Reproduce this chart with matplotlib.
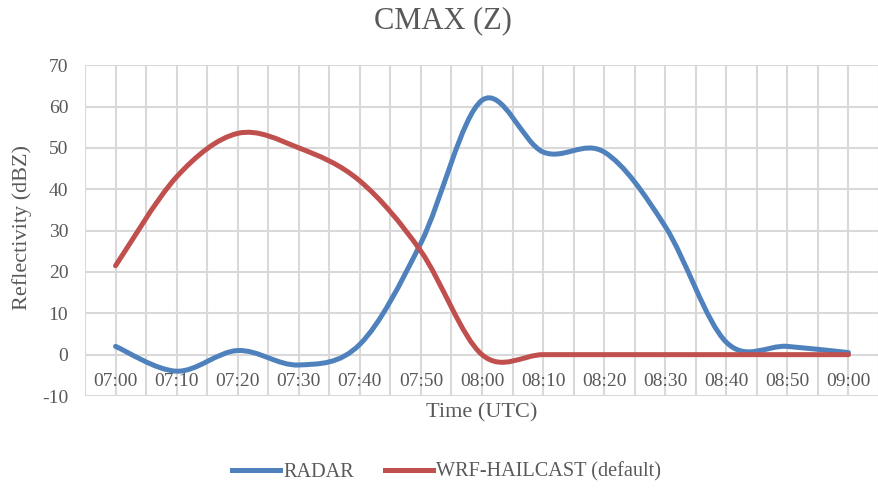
import matplotlib
matplotlib.use("Agg")
import matplotlib.pyplot as plt
import numpy as np
from matplotlib.path import Path
from matplotlib.patches import PathPatch
from matplotlib.lines import Line2D

times = ["07:00", "07:10", "07:20", "07:30", "07:40", "07:50", "08:00",
         "08:10", "08:20", "08:30", "08:40", "08:50", "09:00"]
radar = [2, -4, 1, -2.5, 2.5, 27, 61.5, 49, 49, 31, 3, 2, 0.5]
wrf = [21.5, 43, 53.5, 50, 42, 25, 0, 0, 0, 0, 0, 0, 0]
yticks = [-10, 0, 10, 20, 30, 40, 50, 60, 70]

BLUE = "#4F81BD"
RED = "#C0504D"
GRAY = "#595959"
GRID = "#D9D9D9"
FONT = "Liberation Serif"

plt.rcParams["font.family"] = FONT
plt.rcParams["axes.unicode_minus"] = False


def smooth_path(xs, ys):
    pts = np.column_stack([xs, ys]).astype(float)
    n = len(pts)
    verts = [pts[0]]
    codes = [Path.MOVETO]
    for i in range(n - 1):
        p0 = pts[i - 1] if i > 0 else pts[i]
        p1 = pts[i]
        p2 = pts[i + 1]
        p3 = pts[i + 2] if i + 2 < n else pts[i + 1]
        c1 = p1 + (p2 - p0) / 6.0
        c2 = p2 - (p3 - p1) / 6.0
        verts += [c1, c2, p2]
        codes += [Path.CURVE4] * 3
    return Path(verts, codes)


fig = plt.figure(figsize=(8.79, 4.88), dpi=100)
ax = fig.add_axes([0.0967, 0.1885, 0.9033, 0.678])

x = np.arange(len(times))
ax.set_xlim(-0.5, len(times) - 0.5)
ax.set_ylim(-10, 70)

# grid
ax.set_yticks(yticks)
ax.set_xticks(x)
ax.set_xticks(np.arange(-0.5, len(times), 1.0), minor=True)
ax.grid(True, which="major", color=GRID, linewidth=1.5)
ax.grid(True, which="minor", axis="x", color=GRID, linewidth=1.5)
ax.set_axisbelow(True)

for series, color in [(radar, BLUE), (wrf, RED)]:
    patch = PathPatch(smooth_path(x, series), facecolor="none", edgecolor=color,
                      linewidth=3.6, capstyle="round", joinstyle="round", zorder=3)
    ax.add_patch(patch)

for s in ["top", "right", "left"]:
    ax.spines[s].set_visible(False)
ax.spines["bottom"].set_position(("data", 0))
ax.spines["bottom"].set_visible(False)

ax.set_xticklabels(times)
ax.tick_params(axis="x", which="both", length=0, pad=13, labelsize=14, labelcolor=GRAY)
ax.tick_params(axis="y", length=0, pad=12, labelsize=14, labelcolor=GRAY)

fig.text(0.5485, 0.155, "Time (UTC)", ha="center", va="center", fontsize=16, color=GRAY)
fig.text(0.025, 0.533, "Reflectivity (dBZ)", ha="center", va="center", rotation=90,
         fontsize=16, color=GRAY)
fig.text(0.504, 0.957, "CMAX (Z)", ha="center", va="center", fontsize=22, color=GRAY)

handles = [Line2D([], [], color=BLUE, linewidth=3.6),
           Line2D([], [], color=RED, linewidth=3.6)]
fig.legend(handles, ["RADAR", "WRF-HAILCAST (default)"], loc="center",
           bbox_to_anchor=(0.508, 0.033), ncol=2, frameon=False, fontsize=14.6,
           labelcolor=GRAY, handlelength=2.4, handletextpad=0.15, columnspacing=1.5)

fig.savefig("out.png", dpi=100)
